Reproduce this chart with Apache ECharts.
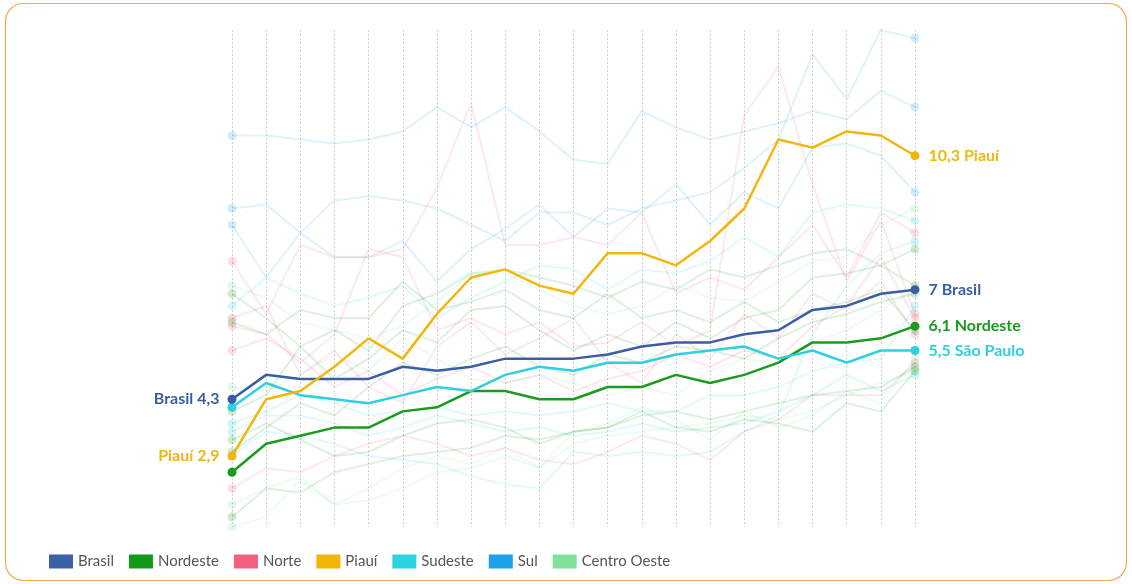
<!DOCTYPE html>
<html>
<head>
<meta charset="utf-8">
<script src="https://cdn.jsdelivr.net/npm/echarts@6/dist/echarts.min.js"></script>
<style>
  html, body { margin: 0; padding: 0; background: #ffffff; }
  #chart { width: 1132px; height: 584px; }
</style>
</head>
<body>
<div id="chart"></div>
<script>
// Period covered by the series (one point per year)
const anos = ['2002','2003','2004','2005','2006','2007','2008','2009','2010','2011','2012',
              '2013','2014','2015','2016','2017','2018','2019','2020','2021','2022'];

// Highlighted series
const brasil   = [4.3, 4.9, 4.8, 4.8, 4.8, 5.1, 5.0, 5.1, 5.3, 5.3, 5.3, 5.4, 5.6, 5.7, 5.7, 5.9, 6.0, 6.5, 6.6, 6.9, 7.0];
const nordeste = [2.5, 3.2, 3.4, 3.6, 3.6, 4.0, 4.1, 4.5, 4.5, 4.3, 4.3, 4.6, 4.6, 4.9, 4.7, 4.9, 5.2, 5.7, 5.7, 5.8, 6.1];
const piaui    = [2.9, 4.3, 4.5, 5.1, 5.8, 5.3, 6.4, 7.3, 7.5, 7.1, 6.9, 7.9, 7.9, 7.6, 8.2, 9.0, 10.7, 10.5, 10.9, 10.8, 10.3];
const saoPaulo = [4.1, 4.7, 4.4, 4.3, 4.2, 4.4, 4.6, 4.5, 4.9, 5.1, 5.0, 5.2, 5.2, 5.4, 5.5, 5.6, 5.3, 5.5, 5.2, 5.5, 5.5];

// Background states, grouped by region
const sulA = [10.8, 10.8, 10.7, 10.6, 10.7, 10.9, 11.5, 11.0, 11.5, 10.9, 10.2, 10.1, 11.4, 11.0, 10.7, 10.9, 11.1, 11.4, 11.2, 11.9, 11.5];
const sulB = [9.0, 9.1, 8.4, 9.2, 9.3, 9.2, 9.0, 8.6, 8.2, 8.9, 8.9, 8.6, 9.0, 9.2, 9.4, 10.0, 10.7, 12.8, 11.7, 13.4, 13.2];
const sulC = [8.6, 7.3, 8.4, 7.8, 7.8, 8.2, 7.2, 8.0, 8.5, 9.1, 8.3, 9.0, 8.9, 9.6, 8.6, 9.4, 9.0, 10.5, 10.6, 10.3, 9.4];

const sudesteA = [6.6, 7.3, 6.9, 6.6, 6.8, 7.1, 6.3, 6.8, 7.2, 7.6, 7.5, 7.0, 7.5, 7.4, 7.7, 8.3, 7.8, 8.9, 9.1, 9.0, 8.7];
const sudesteB = [3.7, 4.0, 4.4, 4.2, 3.9, 4.0, 4.1, 3.9, 4.0, 3.9, 4.0, 4.2, 4.0, 4.0, 4.4, 4.4, 4.6, 5.0, 5.2, 5.3, 6.6];
const sudesteC = [3.5, 3.9, 3.9, 3.7, 3.4, 3.6, 3.9, 3.7, 3.5, 3.6, 3.4, 3.5, 3.7, 3.5, 3.6, 3.7, 4.0, 4.4, 4.9, 4.5, 4.9];
const sudesteD = [2.9, 3.5, 3.4, 3.2, 2.9, 2.8, 2.7, 2.4, 2.2, 2.1, 3.0, 2.9, 3.0, 2.9, 3.0, 3.5, 3.9, 5.9, 7.1, 7.9, 8.2];

const norteA = [7.7, 6.4, 8.1, 7.8, 7.8, 8.0, 9.5, 11.6, 8.1, 8.1, 8.3, 8.1, 8.9, 6.9, 7.3, 7.0, 7.8, 8.6, 7.3, 8.9, 8.4];
const norteB = [6.1, 5.9, 5.2, 5.9, 8.0, 7.8, 6.0, 6.3, 5.9, 6.2, 5.6, 5.7, 6.2, 5.6, 6.0, 11.3, 12.5, 9.6, 7.2, 8.7, 6.4];
const norteC = [5.5, 5.8, 5.3, 4.6, 5.0, 4.4, 4.8, 5.1, 4.7, 4.9, 4.5, 4.8, 5.0, 5.4, 5.1, 5.5, 5.3, 6.1, 6.6, 7.8, 6.3];
const norteD = [2.1, 2.6, 2.5, 2.9, 3.2, 3.4, 3.2, 2.9, 3.1, 2.8, 2.7, 3.0, 3.4, 3.2, 2.8, 3.5, 3.8, 4.4, 4.4, 4.4, 5.2];
const norteE = [6.3, 6.6, 4.9, 5.5, 4.6, 4.2, 5.6, 6.2, 5.4, 5.8, 6.3, 5.2, 4.7, 5.9, 5.3, 6.4, 5.8, 6.9, 6.5, 7.2, 5.9];

const nordesteA = [6.2, 5.9, 6.5, 6.3, 6.3, 7.2, 6.5, 6.7, 7.0, 6.5, 6.3, 6.9, 6.3, 6.5, 6.2, 6.7, 6.2, 6.5, 6.7, 7.0, 6.0];
const nordesteB = [3.3, 3.7, 3.3, 2.9, 3.0, 3.4, 3.7, 3.8, 3.6, 3.2, 3.5, 3.6, 4.0, 3.6, 3.5, 3.8, 3.7, 3.5, 4.2, 4.0, 5.0];
const nordesteC = [1.4, 2.1, 2.0, 2.5, 2.7, 2.9, 3.0, 3.1, 3.4, 3.3, 3.5, 3.6, 3.9, 4.0, 3.8, 4.0, 4.2, 4.4, 4.5, 4.6, 5.1];
const nordesteD = [4.0, 4.4, 5.6, 4.8, 5.3, 6.0, 5.7, 6.5, 6.6, 6.0, 5.5, 5.9, 5.6, 6.2, 5.8, 6.3, 6.5, 7.3, 7.4, 7.6, 8.0];
const nordesteE = [3.0, 3.6, 4.2, 3.9, 4.6, 5.2, 4.9, 5.3, 5.6, 5.1, 4.9, 5.4, 5.2, 5.6, 5.5, 5.3, 5.8, 6.2, 6.4, 6.7, 6.9];
const nordesteF = [6.9, 6.3, 5.6, 6.0, 5.5, 6.6, 6.9, 7.4, 7.5, 7.3, 7.1, 6.8, 7.2, 7.0, 7.5, 7.3, 7.6, 7.9, 8.0, 7.6, 7.1];

const centroOesteA = [7.1, 6.8, 6.2, 6.0, 5.8, 6.1, 6.7, 7.4, 7.4, 7.0, 6.6, 6.4, 6.6, 7.1, 6.8, 6.7, 7.2, 7.7, 7.8, 8.6, 9.0];
const centroOesteB = [4.6, 4.5, 4.9, 5.4, 5.0, 5.8, 5.3, 4.8, 4.7, 4.9, 4.7, 4.4, 4.6, 4.4, 5.0, 5.3, 5.2, 5.7, 6.0, 6.5, 7.0];
const centroOesteC = [1.7, 2.1, 2.4, 1.7, 2.1, 2.6, 2.9, 2.7, 3.1, 2.6, 3.5, 3.7, 4.1, 3.8, 3.3, 4.0, 3.6, 3.9, 4.5, 4.2, 5.3];
const centroOesteD = [1.15, 1.4, 2.3, 1.7, 1.8, 2.1, 2.5, 2.6, 2.9, 2.6, 3.2, 3.4, 3.5, 3.6, 3.7, 3.9, 3.8, 4.0, 4.4, 4.7, 5.0];

const cores = {
  'Brasil': '#3a61a6',
  'Nordeste': '#12991a',
  'Norte': '#f2607f',
  'Piauí': '#f1b506',
  'Sudeste': '#2dd2e0',
  'Sul': '#1ca0e8',
  'Centro Oeste': '#80e29a'
};
const legenda = ['Brasil', 'Nordeste', 'Norte', 'Piauí', 'Sudeste', 'Sul', 'Centro Oeste'];

const fonte = 'Lato, "Open Sans", sans-serif';
const fmt = v => Number.isInteger(v) ? String(v) : v.toFixed(1).replace('.', ',');

// Faint context lines: only the first and last points carry a dot
function linhaFundo(regiao, valores) {
  const ult = valores.length - 1;
  return {
    name: regiao,
    type: 'line',
    z: 1,
    silent: true,
    showAllSymbol: true,
    data: valores.map((v, i) => (i === 0 || i === ult)
      ? { value: v, symbol: 'circle', symbolSize: 9 }
      : { value: v, symbol: 'none' }),
    lineStyle: { color: cores[regiao], width: 2, opacity: 0.14 },
    itemStyle: { color: cores[regiao], opacity: 0.2 },
    emphasis: { disabled: true }
  };
}

// Highlighted line with value labels at its ends
function linhaDestaque(nome, rotulo, cor, valores, rotuloInicio) {
  const ult = valores.length - 1;
  const estiloRotulo = {
    show: true, color: cor, fontFamily: fonte, fontWeight: 'bold', fontSize: 16
  };
  return {
    name: nome,
    type: 'line',
    z: 5,
    showAllSymbol: true,
    data: valores.map((v, i) => {
      if (i === 0) {
        return {
          value: v, symbol: 'circle', symbolSize: 9,
          label: rotuloInicio
            ? Object.assign({}, estiloRotulo, { position: 'left', distance: 8, formatter: rotulo + ' ' + fmt(v) })
            : { show: false }
        };
      }
      if (i === ult) {
        return {
          value: v, symbol: 'circle', symbolSize: 9,
          label: Object.assign({}, estiloRotulo, { position: 'right', distance: 9, formatter: fmt(v) + ' ' + rotulo })
        };
      }
      return { value: v, symbol: 'none' };
    }),
    lineStyle: { color: cor, width: 2.5 },
    itemStyle: { color: cor },
    emphasis: { disabled: true }
  };
}

const series = [
  linhaFundo('Sul', sulA), linhaFundo('Sul', sulB), linhaFundo('Sul', sulC),
  linhaFundo('Sudeste', sudesteA), linhaFundo('Sudeste', sudesteB),
  linhaFundo('Sudeste', sudesteC), linhaFundo('Sudeste', sudesteD),
  linhaFundo('Norte', norteA), linhaFundo('Norte', norteB), linhaFundo('Norte', norteC),
  linhaFundo('Norte', norteD), linhaFundo('Norte', norteE),
  linhaFundo('Nordeste', nordesteA), linhaFundo('Nordeste', nordesteB), linhaFundo('Nordeste', nordesteC),
  linhaFundo('Nordeste', nordesteD), linhaFundo('Nordeste', nordesteE), linhaFundo('Nordeste', nordesteF),
  linhaFundo('Centro Oeste', centroOesteA), linhaFundo('Centro Oeste', centroOesteB),
  linhaFundo('Centro Oeste', centroOesteC), linhaFundo('Centro Oeste', centroOesteD),
  linhaDestaque('Nordeste', 'Nordeste', '#1b9a1f', nordeste, false),
  linhaDestaque('Sudeste', 'São Paulo', '#30cfe0', saoPaulo, false),
  linhaDestaque('Brasil', 'Brasil', '#3a5ea5', brasil, true),
  linhaDestaque('Piauí', 'Piauí', '#f0b70f', piaui, true)
];

const chart = echarts.init(document.getElementById('chart'), null, { renderer: 'canvas' });
chart.setOption({
  animation: false,
  backgroundColor: '#ffffff',
  textStyle: { fontFamily: fonte },
  graphic: [{
    type: 'rect',
    silent: true,
    z: -10,
    shape: { x: 5.5, y: 3.5, width: 1121, height: 577, r: 18 },
    style: { fill: 'none', stroke: '#f5a84e', lineWidth: 1.2 }
  }],
  grid: { left: 232, right: 217, top: 30, bottom: 57 },
  xAxis: {
    type: 'category',
    data: anos,
    boundaryGap: false,
    axisLine: { show: false },
    axisTick: { show: false, interval: 0 },
    axisLabel: { show: false, interval: 0 },
    splitLine: { show: true, interval: 0, lineStyle: { color: '#cfd2d6', width: 1, type: [2, 2] } }
  },
  yAxis: {
    type: 'value',
    min: 1.15,
    max: 13.4,
    show: false
  },
  legend: {
    left: 49,
    top: 554,
    padding: 0,
    icon: 'rect',
    itemWidth: 24,
    itemHeight: 14,
    itemGap: 15,
    selectedMode: false,
    textStyle: { color: '#555555', fontSize: 15, fontFamily: fonte },
    data: legenda.map(n => ({ name: n, itemStyle: { color: cores[n], opacity: 1, borderWidth: 0 } }))
  },
  series: series
});
</script>
</body>
</html>
